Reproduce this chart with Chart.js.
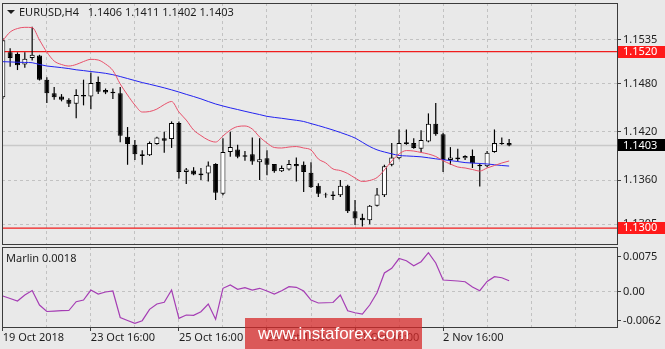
<!DOCTYPE html>
<html>
<head>
<meta charset="utf-8">
<script src="https://cdn.jsdelivr.net/npm/chart.js@4.4.0/dist/chart.umd.min.js"></script>
<style>
  html, body { margin: 0; padding: 0; background: #e9e9e9; }
  #wrap { position: relative; width: 665px; height: 349px; overflow: hidden; font-family: "Noto Sans", sans-serif; }
  #top { position: absolute; left: 0; top: 0; width: 665px; height: 246px; }
  #bottom { position: absolute; left: 0; top: 246px; width: 665px; height: 103px; }
  .txt { position: absolute; font-size: 11px; line-height: 13px; color: #1e1e1e; white-space: pre; }
  #title { left: 19px; top: 5px; }
  #arrow { position: absolute; left: 7px; top: 10px; width: 0; height: 0;
           border-left: 4px solid transparent; border-right: 4px solid transparent; border-top: 4px solid #1e1e1e; }
  #marlinTitle { left: 6px; top: 251px; }
  #stamp { position: absolute; left: 245px; top: 318px; width: 177px; height: 31px;
           background: rgba(214, 40, 40, 0.75); color: #fff; font-family: "Liberation Sans", sans-serif;
           font-size: 17px; line-height: 31px; text-align: center; }
</style>
</head>
<body>
<div id="wrap">
  <div id="top"><canvas id="priceChart"></canvas></div>
  <div id="bottom"><canvas id="marlinChart"></canvas></div>
  <div id="arrow"></div>
  <div class="txt" id="title">EURUSD,H4   1.1406 1.1411 1.1402 1.1403</div>
  <div class="txt" id="marlinTitle">Marlin 0.0018</div>
  <div id="stamp">www.instaforex.com</div>
</div>
<script>
function $(id) {
  return document.getElementById(id);
}

// H4 candles
const opens = [1.1463, 1.1519, 1.1517, 1.1504, 1.1512, 1.1515, 1.1485, 1.1468, 1.1464, 1.1460,
  1.1455, 1.1466, 1.1464, 1.1482, 1.1472, 1.1470, 1.1468, 1.1414, 1.1404, 1.1392,
  1.1391, 1.1405, 1.1412, 1.1411, 1.1431, 1.1370, 1.1372, 1.1368, 1.1368, 1.1380,
  1.1343, 1.1395, 1.1398, 1.1391, 1.1392, 1.1382, 1.1387, 1.1380, 1.1371, 1.1373,
  1.1380, 1.1379, 1.1369, 1.1353, 1.1342, 1.1342, 1.1341, 1.1353, 1.1321, 1.1313,
  1.1310, 1.1328, 1.1341, 1.1379, 1.1387, 1.1407, 1.1406, 1.1399, 1.1408, 1.1430,
  1.1417, 1.1385, 1.1388, 1.1387, 1.1390, 1.1379, 1.1377, 1.1395, 1.1406, 1.1406];
const highs = [1.1537, 1.1524, 1.1519, 1.1519, 1.1551, 1.1516, 1.1488, 1.1476, 1.1467, 1.1462,
  1.1473, 1.1485, 1.1494, 1.1489, 1.1474, 1.1474, 1.1476, 1.1426, 1.1410, 1.1397,
  1.1408, 1.1414, 1.1420, 1.1433, 1.1433, 1.1375, 1.1376, 1.1375, 1.1383, 1.1381,
  1.1412, 1.1420, 1.1404, 1.1396, 1.1413, 1.1412, 1.1397, 1.1380, 1.1378, 1.1385,
  1.1388, 1.1383, 1.1382, 1.1356, 1.1344, 1.1346, 1.1360, 1.1354, 1.1335, 1.1318,
  1.1329, 1.1350, 1.1379, 1.1406, 1.1423, 1.1423, 1.1412, 1.1422, 1.1443, 1.1456,
  1.1419, 1.1401, 1.1399, 1.1391, 1.1398, 1.1381, 1.1396, 1.1423, 1.1413, 1.1411];
const lows = [1.1461, 1.1501, 1.1497, 1.1500, 1.1509, 1.1484, 1.1456, 1.1460, 1.1458, 1.1451,
  1.1437, 1.1453, 1.1448, 1.1467, 1.1467, 1.1461, 1.1407, 1.1379, 1.1385, 1.1379,
  1.1390, 1.1404, 1.1394, 1.1400, 1.1362, 1.1355, 1.1366, 1.1360, 1.1358, 1.1335,
  1.1341, 1.1389, 1.1387, 1.1384, 1.1379, 1.1360, 1.1366, 1.1369, 1.1370, 1.1372,
  1.1358, 1.1345, 1.1350, 1.1339, 1.1338, 1.1335, 1.1339, 1.1319, 1.1304, 1.1302,
  1.1305, 1.1327, 1.1339, 1.1377, 1.1386, 1.1404, 1.1399, 1.1394, 1.1407, 1.1415,
  1.1370, 1.1379, 1.1383, 1.1385, 1.1375, 1.1352, 1.1376, 1.1394, 1.1404, 1.1402];
const closes = [1.1534, 1.1512, 1.1503, 1.1511, 1.1516, 1.1485, 1.1468, 1.1463, 1.1460, 1.1455,
  1.1466, 1.1464, 1.1481, 1.1470, 1.1469, 1.1468, 1.1415, 1.1405, 1.1392, 1.1390,
  1.1406, 1.1413, 1.1409, 1.1431, 1.1370, 1.1373, 1.1367, 1.1366, 1.1378, 1.1344,
  1.1395, 1.1401, 1.1389, 1.1389, 1.1383, 1.1386, 1.1379, 1.1371, 1.1375, 1.1380,
  1.1377, 1.1370, 1.1351, 1.1343, 1.1341, 1.1340, 1.1353, 1.1321, 1.1312, 1.1310,
  1.1328, 1.1342, 1.1377, 1.1388, 1.1406, 1.1405, 1.1400, 1.1410, 1.1430, 1.1417,
  1.1385, 1.1388, 1.1386, 1.1390, 1.1381, 1.1377, 1.1394, 1.1406, 1.1405, 1.1403];

// moving averages (red fast, blue slow)
const fastMA = [1.15338, 1.15443, 1.15487, 1.15502, 1.15499, 1.15344, 1.15194, 1.15082, 1.15039, 1.15020,
  1.15039, 1.15076, 1.15103, 1.15095, 1.15045, 1.14964, 1.14796, 1.14659, 1.14534, 1.14447,
  1.14453, 1.14484, 1.14540, 1.14578, 1.14447, 1.14347, 1.14223, 1.14154, 1.14098, 1.14073,
  1.14148, 1.14223, 1.14266, 1.14273, 1.14235, 1.14136, 1.14061, 1.14005, 1.13999, 1.14011,
  1.14017, 1.13999, 1.13974, 1.13862, 1.13813, 1.13738, 1.13718, 1.13681, 1.13625, 1.13582,
  1.13594, 1.13631, 1.13725, 1.13837, 1.13924, 1.13967, 1.13961, 1.13943, 1.13924, 1.13893,
  1.13840, 1.13799, 1.13762, 1.13750, 1.13731, 1.13712, 1.13750, 1.13781, 1.13812, 1.13837];
const slowMA = [1.15074, 1.15071, 1.15067, 1.15065, 1.15061, 1.15039, 1.15020, 1.15010, 1.15000, 1.14988,
  1.14973, 1.14963, 1.14951, 1.14941, 1.14929, 1.14912, 1.14889, 1.14864, 1.14839, 1.14814,
  1.14793, 1.14771, 1.14748, 1.14723, 1.14696, 1.14667, 1.14640, 1.14611, 1.14578, 1.14547,
  1.14522, 1.14499, 1.14478, 1.14456, 1.14435, 1.14415, 1.14393, 1.14380, 1.14369, 1.14356,
  1.14344, 1.14329, 1.14303, 1.14278, 1.14251, 1.14223, 1.14192, 1.14160, 1.14123, 1.14070,
  1.14017, 1.13976, 1.13949, 1.13926, 1.13906, 1.13900, 1.13895, 1.13889, 1.13877, 1.13864,
  1.13853, 1.13842, 1.13830, 1.13817, 1.13811, 1.13806, 1.13800, 1.13790, 1.13781, 1.13774];

// Marlin oscillator
const marlin = [-0.00092, -0.00146, -0.00199, -0.00071, 0.00026, -0.00285, -0.00424, -0.00414, -0.00407, -0.00403,
  -0.00214, -0.00178, 0.00036, -0.00049, -0.00006, 0.00015, -0.00553, -0.00617, -0.00677, -0.00621,
  -0.00377, -0.00264, -0.00227, 0.00036, -0.00570, -0.00499, -0.00506, -0.00429, -0.00264, -0.00591,
  0.00073, 0.00144, 0.00051, 0.00086, 0.00036, 0.00073, 0.00015, -0.00049, 0.00021, 0.00107,
  0.00094, 0.00015, -0.00178, -0.00242, -0.00236, -0.00231, -0.00071, -0.00407, -0.00450, -0.00478,
  -0.00285, -0.00021, 0.00401, 0.00501, 0.00711, 0.00664, 0.00557, 0.00643, 0.00836, 0.00615,
  0.00251, 0.00240, 0.00229, 0.00214, 0.00101, 0.00021, 0.00219, 0.00321, 0.00300, 0.00236];

// axis ticks and labels
const xLabelBars = [0, 12, 24, 36, 48, 60];
const xLabels = ["19 Oct 2018", "23 Oct 16:00", "25 Oct 16:00", "29 Oct 16:00", "31 Oct 16:00", "2 Nov 16:00"];
const gridBars = [0, 6, 12, 18, 24, 30, 36, 42, 48, 54, 60, 66, 72, 78];
const priceTicks = [1.1305, 1.1360, 1.1420, 1.1480, 1.1535];
const marlinTicks = [-0.0062, 0, 0.0075];
const marlinTickLabels = ["-0.0062", "0.00", "0.0075"];
const levelLines = [1.1520, 1.1300];
const bidPrice = 1.1403;

// axis ranges
const X_MIN = -0.11, X_MAX = 83.7;
const P_MIN = 1.12803, P_MAX = 1.15805;
const M_MIN = -0.00756, M_MAX = 0.00958;

const FRAME = "#3c3c3c";
const GRID = "#c2c2c2";
const TEXT = "#1e1e1e";
const LEVEL = "#f01c1c";
const FONT = { family: "Noto Sans", size: 11 };

Chart.defaults.animation = false;
Chart.defaults.responsive = true;
Chart.defaults.maintainAspectRatio = false;
Chart.defaults.font.family = "Noto Sans";
Chart.defaults.plugins.legend.display = false;
Chart.defaults.plugins.tooltip.enabled = false;

const framePlugin = {
  id: "frame",
  afterDraw(chart) {
    const a = chart.chartArea;
    const ctx = chart.ctx;
    ctx.save();
    ctx.strokeStyle = FRAME;
    ctx.lineWidth = 1;
    ctx.strokeRect(Math.round(a.left) + 0.5, Math.round(a.top) + 0.5,
      Math.round(a.right - a.left), Math.round(a.bottom - a.top));
    ctx.restore();
  }
};

// price tags on the right axis (levels + bid)
const tagPlugin = {
  id: "tags",
  afterDraw(chart) {
    const ctx = chart.ctx;
    const y = chart.scales.y;
    const left = chart.chartArea.right;
    const tags = levelLines.map(v => ({ v: v, bg: "#ff1a1a" }));
    tags.push({ v: bidPrice, bg: "#000" });
    ctx.save();
    ctx.font = "11px 'Noto Sans'";
    ctx.textBaseline = "middle";
    tags.forEach(t => {
      const py = y.getPixelForValue(t.v);
      ctx.fillStyle = t.bg;
      ctx.fillRect(left + 1, Math.round(py) - 6, 48, 12);
      ctx.fillStyle = "#fff";
      ctx.fillText(t.v.toFixed(4), left + 6, py);
    });
    ctx.restore();
  }
};

function flatLine(v) {
  return [{ x: X_MIN, y: v }, { x: X_MAX, y: v }];
}

function xAxisBase() {
  return {
    type: "linear",
    min: X_MIN,
    max: X_MAX,
    offset: false,
    afterBuildTicks: s => { s.ticks = gridBars.map(v => ({ value: v })); },
    border: { display: false, dash: [3, 3] }
  };
}

function drawPriceChart() {
  const xs = xAxisBase();
  xs.ticks = { display: false };
  xs.grid = { color: GRID, drawTicks: false, offset: false };
  xs.afterFit = s => { s.height = 0; s.paddingLeft = 0; s.paddingRight = 0; };

  new Chart($("priceChart").getContext("2d"), {
    type: "bar",
    data: {
      datasets: [{
        type: "line",
        data: fastMA.map((v, i) => ({ x: i, y: v })),
        borderColor: "#e8506a",
        borderWidth: 1,
        pointRadius: 0,
        cubicInterpolationMode: "monotone",
        order: 0
      }, {
        type: "line",
        data: slowMA.map((v, i) => ({ x: i, y: v })),
        borderColor: "#2323f0",
        borderWidth: 1,
        pointRadius: 0,
        cubicInterpolationMode: "monotone",
        order: 0
      }, {
        type: "bar",
        data: opens.map((o, i) => ({ x: i, y: [o, closes[i]] })),
        backgroundColor: opens.map((o, i) => closes[i] >= o ? "#ffffff" : "#000000"),
        borderColor: "#000",
        borderWidth: 1,
        borderSkipped: false,
        grouped: false,
        maxBarThickness: 5,
        order: 1
      }, {
        type: "bar",
        data: highs.map((h, i) => ({ x: i, y: [lows[i], h] })),
        backgroundColor: "#000",
        borderWidth: 0,
        grouped: false,
        maxBarThickness: 1.2,
        order: 2
      }, {
        type: "line",
        data: flatLine(levelLines[0]),
        borderColor: LEVEL,
        borderWidth: 1.2,
        pointRadius: 0,
        order: 3
      }, {
        type: "line",
        data: flatLine(levelLines[1]),
        borderColor: LEVEL,
        borderWidth: 1.2,
        pointRadius: 0,
        order: 3
      }, {
        type: "line",
        data: flatLine(bidPrice),
        borderColor: "#c9c9c9",
        borderWidth: 1.5,
        pointRadius: 0,
        order: 4
      }]
    },
    options: {
      layout: { padding: { left: 2, top: 3, right: 0, bottom: 2 } },
      scales: {
        x: xs,
        y: {
          position: "right",
          min: P_MIN,
          max: P_MAX,
          afterBuildTicks: s => { s.ticks = priceTicks.map(v => ({ value: v })); },
          afterFit: s => { s.width = 48; s.paddingTop = 0; s.paddingBottom = 0; },
          ticks: { color: TEXT, font: FONT, padding: 2, callback: v => v.toFixed(4) },
          grid: { color: GRID, tickColor: FRAME, tickLength: 4 },
          border: { display: false, dash: [3, 3] }
        }
      }
    },
    plugins: [framePlugin, tagPlugin]
  });
}

function drawMarlinChart() {
  const xs = xAxisBase();
  xs.ticks = {
    autoSkip: false,
    maxRotation: 0,
    align: "start",
    padding: 0,
    color: TEXT,
    font: FONT,
    callback: v => {
      const k = xLabelBars.indexOf(v);
      return k < 0 ? "" : xLabels[k];
    }
  };
  xs.grid = {
    color: GRID,
    offset: false,
    tickLength: 4,
    tickColor: ctx => (ctx.tick && xLabelBars.indexOf(ctx.tick.value) >= 0) ? FRAME : "rgba(0,0,0,0)"
  };
  xs.afterFit = s => { s.height = 22; s.paddingLeft = 0; s.paddingRight = 0; };

  new Chart($("marlinChart").getContext("2d"), {
    type: "line",
    data: {
      datasets: [{
        data: marlin.map((v, i) => ({ x: i, y: v })),
        borderColor: "#a53db4",
        borderWidth: 1.2,
        pointRadius: 0
      }]
    },
    options: {
      layout: { padding: { left: 2, top: 1, right: 0, bottom: 0 } },
      scales: {
        x: xs,
        y: {
          position: "right",
          min: M_MIN,
          max: M_MAX,
          afterBuildTicks: s => { s.ticks = marlinTicks.map(v => ({ value: v })); },
          afterFit: s => { s.width = 48; s.paddingTop = 0; s.paddingBottom = 0; },
          ticks: {
            color: TEXT,
            font: FONT,
            padding: 2,
            callback: (v, i) => marlinTickLabels[i]
          },
          grid: {
            color: ctx => (ctx.tick && ctx.tick.value === 0) ? GRID : "rgba(0,0,0,0)",
            tickColor: FRAME,
            tickLength: 4
          },
          border: { display: false, dash: [3, 3] }
        }
      }
    },
    plugins: [framePlugin]
  });
}

window.onload = function() {
  drawPriceChart();
  drawMarlinChart();
};
</script>
</body>
</html>
